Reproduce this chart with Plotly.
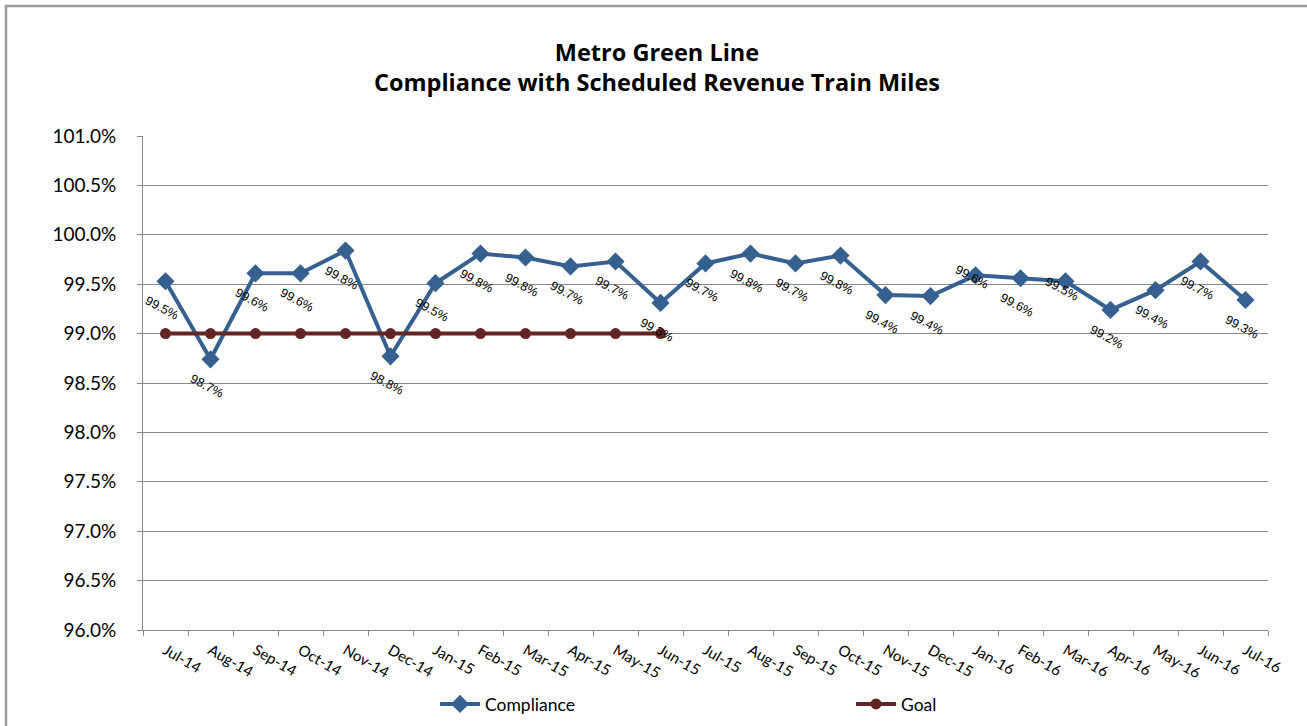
import plotly.graph_objects as go

months = ["Jul-14", "Aug-14", "Sep-14", "Oct-14", "Nov-14", "Dec-14", "Jan-15", "Feb-15",
          "Mar-15", "Apr-15", "May-15", "Jun-15", "Jul-15", "Aug-15", "Sep-15", "Oct-15",
          "Nov-15", "Dec-15", "Jan-16", "Feb-16", "Mar-16", "Apr-16", "May-16", "Jun-16", "Jul-16"]
compliance = [99.53, 98.74, 99.61, 99.61, 99.84, 98.77, 99.51, 99.81, 99.77, 99.68, 99.73, 99.31,
              99.71, 99.81, 99.71, 99.79, 99.39, 99.38, 99.59, 99.56, 99.53, 99.24, 99.44, 99.73, 99.34]
goal_months = months[:12]
goal = [99.0] * 12

W, H = 1307, 726
L, R, T, B = 143, 39, 136, 96
pw, ph = W - L - R, H - T - B

blue = "#36608F"
red = "#632523"
grid = "#888888"
sans = "Lato, Open Sans"

fig = go.Figure()
fig.add_trace(go.Scatter(
    x=months, y=compliance, name="Compliance", mode="lines+markers",
    line=dict(color=blue, width=4),
    marker=dict(symbol="diamond", size=14, color=blue),
    legend="legend",
))
fig.add_trace(go.Scatter(
    x=goal_months, y=goal, name="Goal", mode="lines+markers",
    line=dict(color=red, width=4),
    marker=dict(symbol="circle", size=11, color=red),
    legend="legend2",
))

label_shift = {"Jan-16": -2, "Mar-16": -8}
for m, v in zip(months, compliance):
    fig.add_annotation(
        x=m, y=v, text=f"{v:.1f}%", showarrow=False, textangle=28,
        xshift=-4, yshift=label_shift.get(m, -27),
        font=dict(family="Liberation Sans, Arial", size=12.5, color="#000000"),
    )

# outer chart border (left and top edges visible)
fig.add_shape(type="rect", xref="paper", yref="paper",
              x0=(6 - L) / pw, x1=(W + 10 - L) / pw,
              y0=-(B + 10) / ph, y1=1 + (T - 6) / ph,
              line=dict(color="#9a9a9a", width=2.5), layer="below")

leg_y = -(704 - (T + ph)) / ph
leg_font = dict(family=sans, size=17.5, color="#000000")

fig.update_layout(
    width=W, height=H,
    margin=dict(l=L, r=R, t=T, b=B, autoexpand=False),
    paper_bgcolor="white", plot_bgcolor="white",
    title=dict(
        text="<b>Metro Green Line</b><br><b>Compliance with Scheduled Revenue Train Miles</b>",
        x=657 / W, xref="container", xanchor="center", y=1 - 60.5 / H, yanchor="middle",
        font=dict(family="Open Sans", size=23.5, color="#000000"),
    ),
    showlegend=True,
    legend=dict(
        orientation="h", x=(435 - L) / pw, xanchor="left", y=leg_y, yanchor="middle",
        font=leg_font, bgcolor="rgba(0,0,0,0)", itemwidth=40,
    ),
    legend2=dict(
        orientation="h", x=(851 - L) / pw, xanchor="left", y=leg_y, yanchor="middle",
        font=leg_font, bgcolor="rgba(0,0,0,0)", itemwidth=40,
    ),
    xaxis=dict(
        type="category", tickangle=30, tickson="boundaries", ticks="outside", ticklen=5,
        tickcolor=grid, showline=True, linecolor=grid, linewidth=1, showgrid=False,
        tickfont=dict(family=sans, size=15, color="#000000"), automargin=False,
        ticklabelstandoff=5,
        range=[-0.5, len(months) - 0.5],
    ),
    yaxis=dict(
        range=[96, 101], dtick=0.5, tickformat=".1f", ticksuffix="%",
        ticks="outside", ticklen=5, tickcolor=grid, showline=True, linecolor=grid, linewidth=1,
        showgrid=True, gridcolor=grid, gridwidth=1, zeroline=False, automargin=False,
        ticklabelstandoff=17,
        tickfont=dict(family=sans, size=19, color="#000000"),
    ),
)

fig.write_html("out.html", config={"displayModeBar": False},
               post_script="document.body.style.margin='0';")
